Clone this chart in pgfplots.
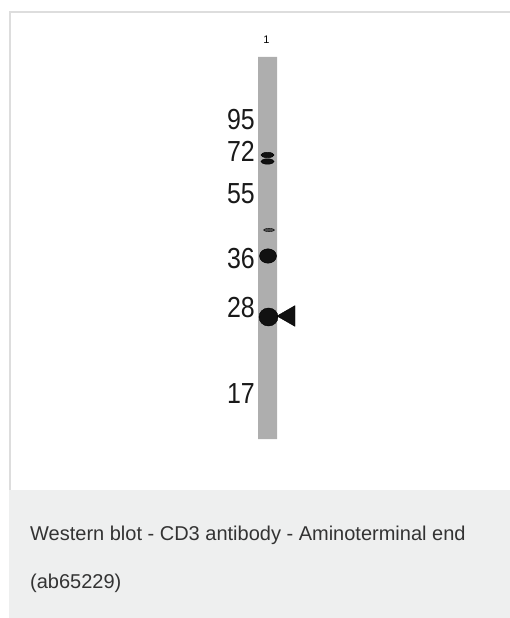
\documentclass[border=0pt]{standalone}
\usepackage{fontspec}
\setmainfont{Liberation Sans}
\newfontfamily\narrowfont[FakeStretch=0.86]{Liberation Sans}
\usepackage{pgfplots}
\pgfplotsset{compat=1.18}
\definecolor{frame}{HTML}{DDDDDD}
\definecolor{capbg}{HTML}{EEEFEF}
\definecolor{captxt}{HTML}{333333}
\definecolor{lane}{HTML}{AEAEAE}
\definecolor{band}{HTML}{111111}
\tikzset{
  mwlabel/.style={anchor=base east, inner sep=0, text=black!90, font=\narrowfont\fontsize{29}{29}\selectfont},
  captext/.style={anchor=base west, inner sep=0, text=captxt, font=\fontsize{20}{20}\selectfont},
}

\begin{document}
\begin{tikzpicture}
% the picture is exactly the 510 x 618 axis box
\useasboundingbox (0,0) rectangle (510pt,618pt);
\begin{axis}[
  at={(0,0)}, anchor=south west,
  width=510pt, height=618pt, scale only axis,
  xmin=0, xmax=510, ymin=0, ymax=618,
  y dir=reverse,
  hide axis,
]
% panel frame and caption box
\fill[frame] (axis cs:9,11) rectangle (axis cs:510,13);
\fill[frame] (axis cs:9,11) rectangle (axis cs:11,490);
\fill[capbg] (axis cs:9,490) rectangle (axis cs:510,618);

% lane
\addplot[fill=lane, draw=none] coordinates {(258,57) (277,57) (277,439) (258,439) (258,57)};

% bands (x centre, y position in px)
\addplot[only marks, mark=*, mark size=6.5, mark options={yscale=0.42, fill=band, draw=none}]
  coordinates {(267.5,155) (267.5,161.5)};
\addplot[only marks, mark=*, mark size=5.5, mark options={yscale=0.3, fill=black!70, draw=none}]
  coordinates {(269,230)};
\addplot[only marks, mark=*, mark size=8.5, mark options={yscale=0.85, fill=band, draw=none}]
  coordinates {(268,256)};
\addplot[only marks, mark=*, mark size=9.5, mark options={yscale=0.95, fill=band, draw=none}]
  coordinates {(268.5,317)};
% arrowhead
\addplot[only marks, mark=triangle*, mark size=12, mark options={rotate=90, fill=band, draw=none}]
  coordinates {(289,316)};

% marker labels
\node[mwlabel] at (axis cs:255,129) {95};
\node[mwlabel] at (axis cs:255,161) {72};
\node[mwlabel] at (axis cs:255,203) {55};
\node[mwlabel] at (axis cs:255,268) {36};
\node[mwlabel] at (axis cs:255,317) {28};
\node[mwlabel] at (axis cs:255,403) {17};
\node[inner sep=0, font=\fontsize{11}{11}\selectfont] at (axis cs:266.5,40) {1};

% caption
\node[captext] at (axis cs:30,540) {Western blot - CD3 antibody - Aminoterminal end};
\node[captext] at (axis cs:30,588) {(ab65229)};
\end{axis}
\end{tikzpicture}
\end{document}
